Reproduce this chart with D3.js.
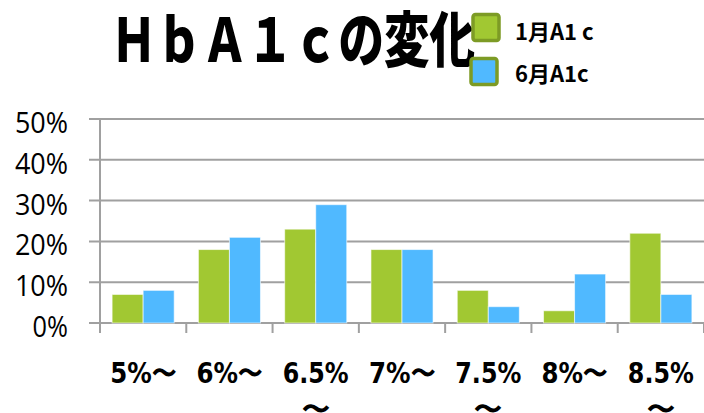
<!DOCTYPE html>
<html>
<head>
<meta charset="utf-8">
<script src="https://cdn.jsdelivr.net/npm/d3@7"></script>
<style>
  body { margin: 0; background: #fff; }
  svg { display: block; }
</style>
</head>
<body>
<div id="chart"></div>
<script>
// data
const categories = ["5%〜", "6%〜", "6.5%〜", "7%〜", "7.5%〜", "8%〜", "8.5%〜"];
const seriesNames = ["1月A1 c", "6月A1c"];
const janValues = [7, 18, 23, 18, 8, 3, 22];
const junValues = [8, 21, 29, 18, 4, 12, 7];
const yTicks = [0, 10, 20, 30, 40, 50];

const width = 704, height = 413;
const colors = ["#a1c832", "#50b9ff"];

const svg = d3.select("#chart").append("svg")
  .attr("width", width)
  .attr("height", height);

// scales
const x = d3.scaleBand().domain(categories).range([100, 704]);
const xInner = d3.scaleBand().domain([0, 1]).range([0, x.bandwidth()]).paddingOuter(0.39);
const y = d3.scaleLinear().domain([0, 50]).range([323, 119]);

// gridlines
svg.append("g")
  .selectAll("line")
  .data(yTicks)
  .join("line")
  .attr("x1", 89).attr("x2", width)
  .attr("y1", d => y(d)).attr("y2", d => y(d))
  .attr("stroke", "#a0a0a0")
  .attr("stroke-width", 2);

// y axis line
svg.append("line")
  .attr("x1", 100).attr("x2", 100)
  .attr("y1", y(50)).attr("y2", 333)
  .attr("stroke", "#a0a0a0").attr("stroke-width", 2);

// bottom ticks at band edges
svg.append("g")
  .selectAll("line")
  .data(categories)
  .join("line")
  .attr("x1", d => x(d) + x.step())
  .attr("x2", d => x(d) + x.step())
  .attr("y1", 323).attr("y2", 333)
  .attr("stroke", "#a0a0a0").attr("stroke-width", 2);

// y labels (narrow font, squeezed a bit)
svg.append("g")
  .selectAll("text")
  .data(yTicks)
  .join("text")
  .attr("x", 68)
  .attr("y", d => y(d) + 14)
  .attr("text-anchor", "end")
  .attr("font-family", "'Open Sans', 'DejaVu Sans', sans-serif")
  .attr("font-size", 29)
  .attr("textLength", d => (d + "%").length * 17.7)
  .attr("lengthAdjust", "spacingAndGlyphs")
  .attr("fill", "#000")
  .text(d => d + "%");

// bars
const rows = categories.map((c, i) => ({ cat: c, vals: [janValues[i], junValues[i]] }));
svg.append("g")
  .selectAll("g")
  .data(rows)
  .join("g")
  .attr("transform", d => `translate(${x(d.cat)},0)`)
  .selectAll("rect")
  .data(d => d.vals.map((v, k) => ({ k, v })))
  .join("rect")
  .attr("x", d => xInner(d.k))
  .attr("width", xInner.bandwidth())
  .attr("y", d => y(d.v))
  .attr("height", d => y(0) - y(d.v))
  .attr("fill", d => colors[d.k])
  .attr("stroke", "rgba(255,255,255,0.6)")
  .attr("stroke-width", 1);

// x labels, long ones wrap the 〜 onto a second line
const xLab = svg.append("g")
  .selectAll("text")
  .data(categories)
  .join("text")
  .attr("text-anchor", "middle")
  .attr("font-family", "'DejaVu Sans', sans-serif")
  .attr("font-weight", "bold")
  .attr("font-size", 28)
  .attr("fill", "#000");
xLab.each(function(d) {
  const t = d3.select(this);
  const cx = x(d) + x.bandwidth() / 2;
  const first = d.length > 4 ? d.slice(0, -1) : d;
  t.append("tspan").attr("x", cx).attr("y", 383)
    .attr("textLength", 66).attr("lengthAdjust", "spacingAndGlyphs")
    .text(first);
  if (d.length > 4) {
    t.append("tspan").attr("x", cx).attr("y", 419).text("〜");
  }
});

// title
svg.append("text")
  .attr("x", 111)
  .attr("y", 62)
  .attr("font-family", "'Noto Sans CJK JP', sans-serif")
  .attr("font-weight", "900")
  .attr("font-size", 60)
  .attr("textLength", 364)
  .attr("lengthAdjust", "spacingAndGlyphs")
  .text("ＨｂＡ１ｃの変化");

// legend
const legend = svg.append("g")
  .selectAll("g")
  .data(seriesNames)
  .join("g")
  .attr("transform", (d, i) => `translate(${473 - i * 2},${14.5 + i * 44})`);
legend.append("rect")
  .attr("width", 26).attr("height", 26)
  .attr("rx", 2.5)
  .attr("fill", (d, i) => colors[i])
  .attr("stroke", "#7d9b25")
  .attr("stroke-width", 3.5);
legend.append("text")
  .attr("x", (d, i) => 42 + i * 2)
  .attr("y", (d, i) => 25.5 - i * 2)
  .attr("font-family", "'Noto Sans CJK JP', sans-serif")
  .attr("font-weight", "bold")
  .attr("font-size", 22)
  .text(d => d);
</script>
</body>
</html>
